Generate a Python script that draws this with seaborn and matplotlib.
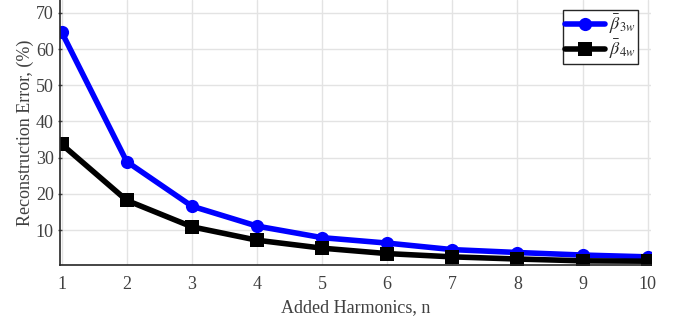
import numpy as np
import pandas as pd
import matplotlib
matplotlib.use("Agg")
import matplotlib.pyplot as plt
import seaborn as sns

harmonics = [1, 2, 3, 4, 5, 6, 7, 8, 9, 10]
beta3w = [64.7, 28.9, 16.6, 11.1, 7.9, 6.4, 4.6, 3.8, 3.1, 2.6]
beta4w = [33.7, 18.2, 10.9, 7.2, 5.0, 3.5, 2.6, 2.0, 1.5, 1.4]
labels = [r"$\bar{\beta}_{3w}$", r"$\bar{\beta}_{4w}$"]
xlabel = "Added Harmonics, n"
ylabel = "Reconstruction Error, (%)"
yticks = [10, 20, 30, 40, 50, 60, 70]

sns.set_theme(style="whitegrid")
plt.rcParams['font.family'] = ['Liberation Serif', 'DejaVu Serif']
plt.rcParams['mathtext.fontset'] = 'stix'

df = pd.DataFrame({
    "n": harmonics * 2,
    "err": beta3w + beta4w,
    "series": [labels[0]] * len(harmonics) + [labels[1]] * len(harmonics),
})

W, H = 674, 321
fig = plt.figure(figsize=(W / 100, H / 100), dpi=100)
ax = fig.add_axes([60 / W, (H - 265) / H, (651 - 60) / W, 265 / H])

sns.lineplot(data=df, x="n", y="err", hue="series", style="series",
             palette=["#0000ff", "#000000"], markers=["o", "s"], dashes=False,
             linewidth=4, markersize=9.5, markeredgewidth=0, ax=ax)

ax.set_xlim(0.975, 10.05)
ax.set_ylim(0.35, 73.55)
ax.set_xticks(harmonics)
ax.set_yticks(yticks)
ax.grid(True, color="#e3e3e3", linewidth=1.0)
for s in ["top", "right"]:
    ax.spines[s].set_visible(False)
for s in ["left", "bottom"]:
    ax.spines[s].set_visible(True)
    ax.spines[s].set_color("#262626")
    ax.spines[s].set_linewidth(1.2)
ax.tick_params(axis="both", labelsize=13, colors="#404040", labelcolor="#404040")
ax.tick_params(axis="y", length=3, width=1, direction="inout", left=True, pad=3)
ax.tick_params(axis="x", length=0, pad=8)
ax.set_xlabel(xlabel, fontsize=13, color="#404040", labelpad=4)
ax.set_ylabel(ylabel, fontsize=13, color="#404040", labelpad=1)

leg = ax.legend(loc="upper right", bbox_to_anchor=(0.978, 0.962), fontsize=13,
                frameon=True, fancybox=False, handlelength=2.2,
                borderpad=0.15, labelspacing=0.1, handletextpad=0.2,
                borderaxespad=0.0, markerscale=1.0)
leg.get_frame().set_edgecolor("#262626")
leg.get_frame().set_linewidth(1.0)
leg.get_frame().set_alpha(1)
leg.set_title(None)

fig.savefig("out.png", dpi=100)
